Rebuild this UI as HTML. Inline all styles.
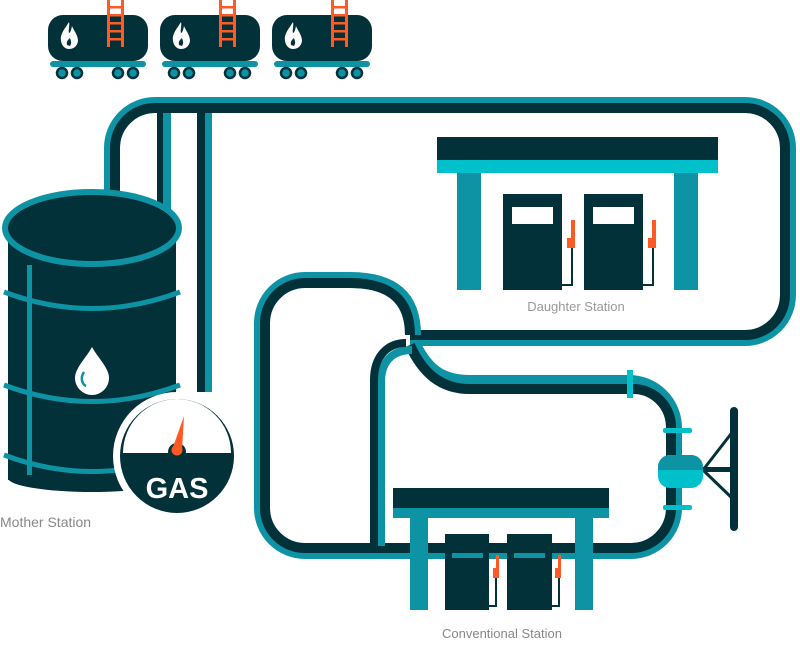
<!DOCTYPE html>
<html><head><style>
body{margin:0;background:#fff;width:800px;height:643px;overflow:hidden}
</style></head><body>
<svg width="800" height="643" viewBox="0 0 800 643" xmlns="http://www.w3.org/2000/svg" font-family="Liberation Sans, sans-serif">
<defs>
<g id="car">
  <rect x="0" y="15" width="100" height="46" rx="15" fill="#03313a"/>
  <rect x="59" y="0" width="3" height="47" fill="#ff5a24"/>
  <rect x="73" y="0" width="3" height="47" fill="#ff5a24"/>
  <g fill="#ff5a24"><rect x="59" y="6" width="17" height="2.5"/><rect x="59" y="14" width="17" height="2.5"/><rect x="59" y="22" width="17" height="2.5"/><rect x="59" y="30" width="17" height="2.5"/><rect x="59" y="38" width="17" height="2.5"/></g>
  <path d="M21,22 C16,30 12,34 13,41 C14,47 18,49 21,49 C25,49 29,47 30,41 C30,35 26,31 24,26 C23,31 22,33 21,33 C20,30 22,26 21,22Z" fill="#fff"/>
  <path d="M19,45 C18,41 21,39 22,38 C23,41 24,43 22,46Z" fill="#03313a"/>
  <rect x="2" y="61" width="96" height="6" rx="3" fill="#0e93a4"/>
  <g fill="#0e93a4" stroke="#03313a" stroke-width="2.5"><circle cx="14" cy="73" r="5"/><circle cx="29" cy="73" r="5"/><circle cx="70" cy="73" r="5"/><circle cx="85" cy="73" r="5"/></g>
</g>
<g id="pump">
  <rect x="0" y="0" width="59" height="96" fill="#03313a"/>
</g>
</defs>
<use href="#car" x="48" y="0"/><use href="#car" x="160" y="0"/><use href="#car" x="272" y="0"/>

<g fill="none" stroke-linejoin="round">
<!-- top pipe -->
<path d="M112,210 V148 A43,43 0 0 1 155,105 H745 A43,43 0 0 1 788,148 V295 A43,43 0 0 1 745,338 H410" stroke="#0e93a4" stroke-width="16"/>
<path d="M115,210 V148 A40,40 0 0 1 155,108 H745 A40,40 0 0 1 785,148 V295 A40,40 0 0 1 745,335 H410" stroke="#03313a" stroke-width="10"/>
<!-- verticals -->
<path d="M167,113 V230" stroke="#0e93a4" stroke-width="8"/>
<path d="M160,113 V230" stroke="#03313a" stroke-width="6"/>
<path d="M208,113 V392" stroke="#0e93a4" stroke-width="8"/>
<path d="M201,113 V392" stroke="#03313a" stroke-width="8"/>
<!-- loop -->
<path d="M413,335 C413,298 393,280 350,280 H305 A43,43 0 0 0 262,323 V508 A43,43 0 0 0 305,551 H631 A43,43 0 0 0 674,508 V427 A45,45 0 0 0 629,383 H470 C440,383 425,370 413,345" stroke="#0e93a4" stroke-width="16"/>
<path d="M410,335 C410,300 390,283 350,283 H305 A40,40 0 0 0 265,323 V508 A40,40 0 0 0 305,548 H631 A40,40 0 0 0 671,508 V427 A38,38 0 0 0 633,389 H470 C440,389 422,372 410,345" stroke="#03313a" stroke-width="10"/>
<!-- inner vertical -->
<path d="M412,350 C392,350 381,362 381,382 V546" stroke="#0e93a4" stroke-width="8"/>
<path d="M406,343 C386,343 374,358 374,380 V546" stroke="#03313a" stroke-width="8"/>
</g>
<!-- flanges and valve -->
<rect x="627" y="370" width="6" height="28" fill="#00c0cc"/>
<rect x="663" y="428" width="29" height="5" rx="2" fill="#00c0cc"/>
<rect x="663" y="505" width="29" height="5" rx="2" fill="#00c0cc"/>
<path d="M703,470 L734,430 M703,470 L734,500" stroke="#03313a" stroke-width="3"/>
<rect x="703" y="467" width="30" height="5" fill="#03313a"/>
<rect x="730" y="407" width="8" height="124" rx="4" fill="#03313a"/>
<rect x="658" y="455" width="45" height="33" rx="12" fill="#00c0cc"/>
<path d="M658,470 V467 A12,12 0 0 1 670,455 H691 A12,12 0 0 1 703,467 V470Z" fill="#0e93a4"/>

<!-- barrel -->
<rect x="8" y="228" width="168" height="252" fill="#03313a"/>
<ellipse cx="92" cy="478" rx="84" ry="14" fill="#03313a"/>
<rect x="27" y="265" width="5" height="210" fill="#0e93a4"/>
<path d="M4,292 Q92,325 180,292" stroke="#0e93a4" stroke-width="5" fill="none"/>
<path d="M4,385 Q92,418 180,385" stroke="#0e93a4" stroke-width="5" fill="none"/>
<path d="M4,455 Q92,488 180,455" stroke="#0e93a4" stroke-width="5" fill="none"/>
<ellipse cx="92" cy="228" rx="87" ry="36" fill="#03313a" stroke="#0e93a4" stroke-width="6"/>
<path d="M92,347 C86,358 75,368 75,378 A17,17 0 0 0 109,378 C109,368 98,358 92,347Z" fill="#fff"/>
<path d="M84,372 C80,378 82,384 86,386" stroke="#0e93a4" stroke-width="2.5" fill="none"/>
<!-- gauge -->
<circle cx="177" cy="456" r="64" fill="#fff"/>
<circle cx="177" cy="456" r="57" fill="#03313a"/>
<path d="M123,453 A54,54 0 0 1 231,453 Z" fill="#fff"/>
<circle cx="177" cy="452" r="9" fill="#03313a"/>
<path d="M172,450 L184,416 L182,450 Z" fill="#ff5a24"/>
<circle cx="177" cy="450" r="5.5" fill="#ff5a24"/>
<text x="177" y="498" text-anchor="middle" fill="#fff" font-weight="bold" font-size="29">GAS</text>
<text x="0" y="527" fill="#888" font-size="14">Mother Station</text>

<!-- daughter station -->
<rect x="437" y="137" width="281" height="23" fill="#03313a"/>
<rect x="437" y="160" width="281" height="13" fill="#00c0cc"/>
<rect x="457" y="173" width="24" height="117" fill="#0e93a4"/>
<rect x="674" y="173" width="24" height="117" fill="#0e93a4"/>
<rect x="503" y="194" width="59" height="96" fill="#03313a"/>
<rect x="584" y="194" width="59" height="96" fill="#03313a"/>
<rect x="512" y="207" width="41" height="17" fill="#fff"/>
<rect x="593" y="207" width="41" height="17" fill="#fff"/>
<path d="M562,285 H572 V245" stroke="#03313a" stroke-width="2" fill="none"/>
<path d="M643,285 H653 V245" stroke="#03313a" stroke-width="2" fill="none"/>
<path d="M567,238 V248 H575 V220 H571 V238Z" fill="#ff5a24"/>
<path d="M648,238 V248 H656 V220 H652 V238Z" fill="#ff5a24"/>
<text x="576" y="311" text-anchor="middle" fill="#999" font-size="13">Daughter Station</text>

<!-- conventional station -->
<rect x="393" y="488" width="216" height="20" fill="#03313a"/>
<rect x="393" y="508" width="216" height="10" fill="#0e93a4"/>
<rect x="410" y="518" width="18" height="92" fill="#0e93a4"/>
<rect x="575" y="518" width="18" height="92" fill="#0e93a4"/>
<rect x="445" y="534" width="44" height="76" fill="#03313a"/>
<rect x="507" y="534" width="45" height="76" fill="#03313a"/>
<rect x="452" y="553" width="31" height="5" fill="#0e93a4"/>
<rect x="514" y="553" width="31" height="5" fill="#0e93a4"/>
<path d="M489,606 H496 V575" stroke="#03313a" stroke-width="2" fill="none"/>
<path d="M552,606 H559 V575" stroke="#03313a" stroke-width="2" fill="none"/>
<path d="M493,568 V578 H499 V555 H496 V568Z" fill="#ff5a24"/>
<path d="M555,568 V578 H561 V555 H558 V568Z" fill="#ff5a24"/>
<text x="502" y="638" text-anchor="middle" fill="#888" font-size="13">Conventional Station</text>
</svg>
</body></html>
